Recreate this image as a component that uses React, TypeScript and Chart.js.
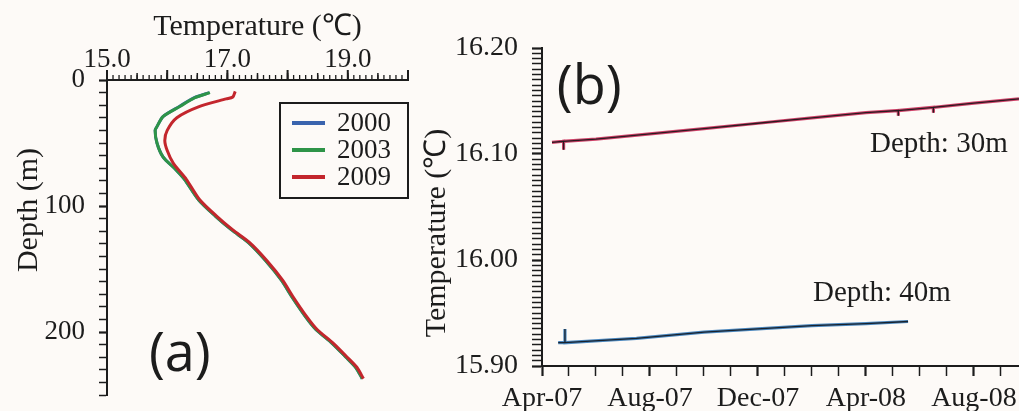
import React, { useEffect, useRef } from 'react';
import { Chart, registerables } from 'chart.js';

Chart.register(...registerables);

const SERIF = '"Liberation Serif", "Times New Roman", serif';
const SANS = '"Open Sans", "Liberation Sans", sans-serif';
const INK = '#1c1c1c';
const BG = '#fdfaf7';

// ---------- Panel (a): temperature profiles ----------
const YEARS = ['2000', '2003', '2009'];
const YEAR_COLORS = ['#3a64ae', '#2e9448', '#c3262d'];
const TEMP_TICKS = [15, 17, 19];
const DEPTH_TICKS = [0, 100, 200];

const DEPTH_2000 = [10, 14, 21, 29, 37, 40, 50, 61, 71, 79, 95, 108, 119, 129, 143, 159, 172, 188, 198, 209, 220, 228, 237];
const TEMP_2000 = [16.7, 16.45, 16.2, 15.93, 15.83, 15.8, 15.83, 15.93, 16.14, 16.29, 16.52, 16.8, 17.07, 17.35, 17.63, 17.9, 18.07, 18.3, 18.47, 18.74, 18.97, 19.13, 19.24];
const DEPTH_2003 = [10, 14, 21, 29, 37, 40, 50, 61, 71, 79, 95, 108, 119, 129, 143, 159, 172, 188, 198, 209, 220, 228, 237];
const TEMP_2003 = [16.71, 16.46, 16.21, 15.93, 15.83, 15.8, 15.83, 15.93, 16.14, 16.29, 16.52, 16.8, 17.07, 17.35, 17.63, 17.9, 18.07, 18.3, 18.47, 18.74, 18.97, 19.13, 19.24];
const DEPTH_2009 = [9, 13.5, 15, 21, 30, 40, 48, 56, 66, 79, 95, 108, 119, 129, 143, 159, 172, 188, 198, 209, 220, 228, 237];
const TEMP_2009 = [17.13, 17.09, 16.98, 16.54, 16.16, 16.0, 15.96, 16.0, 16.1, 16.32, 16.54, 16.82, 17.09, 17.37, 17.65, 17.92, 18.09, 18.32, 18.49, 18.76, 18.99, 19.15, 19.26];

const PROFILE_TEMPS = [TEMP_2000, TEMP_2003, TEMP_2009];
const PROFILE_DEPTHS = [DEPTH_2000, DEPTH_2003, DEPTH_2009];
const PROFILE_ORDER = [2, 1, 0];

// ---------- Panel (b): time series ----------
const MONTH_TICKS = [0, 4, 8, 12, 16];
const MONTH_LABELS = ['Apr-07', 'Aug-07', 'Dec-07', 'Apr-08', 'Aug-08'];
const TEMP_B_TICKS = [15.9, 16.0, 16.1, 16.2];

const MONTH_30M = [0.37, 0.8, 0.8, 0.8, 2, 4, 6, 8, 10, 12, 13.2, 13.2, 13.2, 14.5, 14.5, 14.5, 16, 17.67];
const TEMP_30M = [16.111, 16.112, 16.104, 16.112, 16.114, 16.119, 16.124, 16.129, 16.134, 16.139, 16.141, 16.136, 16.141, 16.144, 16.139, 16.144, 16.148, 16.152];
const MONTH_40M = [0.6, 0.85, 0.85, 0.85, 2.1, 3.5, 6, 8, 10, 12, 13.56];
const TEMP_40M = [15.922, 15.922, 15.935, 15.922, 15.924, 15.926, 15.932, 15.935, 15.938, 15.94, 15.942];

// minor tick grid helpers (tick positions only, not data)
const minorTicks = (min: number, max: number, step: number) => {
  const out: { value: number }[] = [];
  const n0 = Math.ceil(min / step - 1e-6);
  const n1 = Math.floor(max / step + 1e-6);
  for (let n = n0; n <= n1; n++) out.push({ value: Number((n * step).toFixed(6)) });
  return out;
};
const isIn = (list: number[], v: number) => list.some((t) => Math.abs(t - v) < 1e-6);

function makeTopTickPlugin(specs: any[], overshoot: number) {
  return {
    id: 'toptickmarks',
    afterDraw(chart: any) {
      const ctx = chart.ctx;
      const area = chart.chartArea;
      const scale = chart.scales.x;
      ctx.save();
      ctx.fillStyle = INK;
      for (const spec of specs) {
        const n0 = Math.ceil(scale.min / spec.step - 1e-6);
        const n1 = Math.floor(scale.max / spec.step + 1e-6);
        for (let n = n0; n <= n1; n++) {
          const p = scale.getPixelForValue(n * spec.step);
          ctx.fillRect(p - spec.width / 2, area.top - spec.len, spec.width, spec.len);
        }
      }
      if (overshoot) ctx.fillRect(area.left - 1, area.top - overshoot, 2, overshoot);
      ctx.restore();
    },
  };
}

function makeDecor(cfg: any) {
  return {
    id: 'decor',
    beforeDraw(chart: any) {
      const ctx = chart.ctx;
      ctx.save();
      ctx.fillStyle = BG;
      ctx.fillRect(0, 0, chart.width, chart.height);
      ctx.restore();
    },
    afterDraw(chart: any) {
      const ctx = chart.ctx;
      const area = chart.chartArea;
      for (const t of cfg.texts) {
        let x = t.px;
        let y = t.py;
        if (t.x !== undefined) {
          x = chart.scales.x.getPixelForValue(t.x);
          y = chart.scales.y.getPixelForValue(t.y);
        }
        ctx.save();
        ctx.translate(x, y);
        if (t.rotate) ctx.rotate(t.rotate);
        ctx.font = t.font;
        ctx.fillStyle = INK;
        ctx.textAlign = t.align || 'left';
        ctx.textBaseline = 'middle';
        ctx.fillText(t.text, 0, 0);
        ctx.restore();
      }
      const lg = cfg.legend;
      if (lg) {
        const bx = area.right - lg.width;
        const by = area.top + lg.top;
        ctx.save();
        ctx.lineWidth = 2;
        ctx.strokeStyle = INK;
        ctx.strokeRect(bx, by, lg.width, lg.height);
        chart.data.datasets.forEach((ds: any, i: number) => {
          const ry = by + lg.rows[i];
          ctx.fillStyle = ds.borderColor;
          ctx.fillRect(bx + lg.swatchX, ry - 2, lg.swatchW, 4);
          ctx.fillStyle = INK;
          ctx.font = lg.font;
          ctx.textAlign = 'left';
          ctx.textBaseline = 'middle';
          ctx.fillText(ds.label, bx + lg.textX, ry + 1);
        });
        ctx.restore();
      }
    },
  };
}

const noPad = (s: any) => {
  s.paddingLeft = 0;
  s.paddingRight = 0;
  s.paddingTop = 0;
  s.paddingBottom = 0;
};

const nativeTicks = (len: number, majors: number[]) => ({
  display: true,
  drawOnChartArea: false,
  drawTicks: true,
  tickLength: len,
  tickColor: INK,
  color: INK,
  tickWidth: (c: any) => (c.tick && isIn(majors, c.tick.value) ? 2.2 : 1.5),
});

function makeProfileChart(canvas: HTMLCanvasElement) {
  const top = makeTopTickPlugin(
    [
      { step: 0.1, len: 5, width: 1.3 },
      { step: 0.5, len: 7, width: 1.5 },
      { step: 1, len: 10, width: 2 },
    ],
    7
  );
  const decor = makeDecor({
    texts: [
      { text: '(a)', x: 16.21, y: 219, font: `54px ${SANS}`, align: 'center' },
      { text: 'Depth (m)', px: 29, py: 210, rotate: -Math.PI / 2, font: `30px ${SERIF}`, align: 'center' },
    ],
    legend: { width: 128, top: 23, height: 95, rows: [20, 47, 74], swatchX: 12, swatchW: 33, textX: 57, font: `27px ${SERIF}` },
  });
  return new Chart(canvas, {
    type: 'scatter',
    data: {
      datasets: YEARS.map((yr, i) => ({
        label: yr,
        data: PROFILE_TEMPS[i].map((t, j) => ({ x: t, y: PROFILE_DEPTHS[i][j] })),
        showLine: true,
        borderColor: YEAR_COLORS[i],
        backgroundColor: YEAR_COLORS[i],
        borderWidth: 3,
        pointRadius: 0,
        tension: 0.25,
        order: PROFILE_ORDER[i],
      })),
    },
    options: {
      animation: false,
      responsive: false,
      events: [],
      layout: { autoPadding: false, padding: { left: 0, top: 0, right: 12, bottom: 16 } },
      plugins: {
        legend: { display: false },
        tooltip: { enabled: false },
      },
      scales: {
        x: {
          type: 'linear',
          position: 'top',
          min: 15,
          max: 20,
          afterBuildTicks: (s: any) => { s.ticks = TEMP_TICKS.map((v) => ({ value: v })); },
          afterFit: (s: any) => { s.height = 80; noPad(s); },
          ticks: {
            callback: (v: any) => Number(v).toFixed(1),
            font: { family: SERIF, size: 27, lineHeight: 1 },
            color: INK,
            padding: 7,
            maxRotation: 0,
            autoSkip: false,
          },
          grid: { display: false, drawTicks: false },
          border: { display: true, color: INK, width: 2 },
          title: {
            display: true,
            text: 'Temperature (℃)',
            color: INK,
            font: { family: SERIF, size: 30, lineHeight: 1 },
            padding: { top: 12, bottom: 0 },
          },
        },
        y: {
          type: 'linear',
          reverse: true,
          min: 0,
          max: 250,
          afterBuildTicks: (s: any) => { s.ticks = minorTicks(0, 250, 10); },
          afterFit: (s: any) => { s.width = 107; noPad(s); },
          ticks: {
            callback: (v: any) => (isIn(DEPTH_TICKS, Number(v)) ? String(v) : ''),
            font: { family: SERIF, size: 27, lineHeight: 1 },
            color: INK,
            padding: 14,
            autoSkip: false,
          },
          grid: { ...nativeTicks(8, DEPTH_TICKS), tickLength: 8 },
          border: { display: true, color: INK, width: 2 },
        },
      },
    } as any,
    plugins: [decor as any, top as any],
  });
}

function makeSeriesChart(canvas: HTMLCanvasElement) {
  const decor = makeDecor({
    texts: [
      { text: '(b)', x: 0.55, y: 16.162, font: `54px ${SANS}`, align: 'left' },
      { text: 'Depth: 30m', x: 12.15, y: 16.1095, font: `29px ${SERIF}`, align: 'left' },
      { text: 'Depth: 40m', x: 10.04, y: 15.9686, font: `29px ${SERIF}`, align: 'left' },
      { text: 'Temperature (℃)', px: 17, py: 233, rotate: -Math.PI / 2, font: `30px ${SERIF}`, align: 'center' },
    ],
  });
  const line = (label: string, months: number[], temps: number[], color: string, width: number, order: number) => ({
    label,
    data: months.map((m, i) => ({ x: m, y: temps[i] })),
    showLine: true,
    borderColor: color,
    backgroundColor: color,
    borderWidth: width,
    pointRadius: 0,
    tension: 0,
    order,
  });
  return new Chart(canvas, {
    type: 'scatter',
    data: {
      datasets: [
        line('30m', MONTH_30M, TEMP_30M, '#d0436a', 3.2, 2),
        line('30m core', MONTH_30M, TEMP_30M, '#2a1a20', 1.3, 1),
        line('40m', MONTH_40M, TEMP_40M, '#4a86bd', 3.2, 2),
        line('40m core', MONTH_40M, TEMP_40M, '#18222e', 1.3, 1),
      ],
    },
    options: {
      animation: false,
      responsive: false,
      events: [],
      layout: { autoPadding: false, padding: { left: 0, top: 48, right: 0, bottom: 0 } },
      plugins: {
        legend: { display: false },
        tooltip: { enabled: false },
      },
      scales: {
        x: {
          type: 'linear',
          position: 'bottom',
          min: 0,
          max: 17.67,
          afterBuildTicks: (s: any) => { s.ticks = minorTicks(0, 17.67, 1); },
          afterFit: (s: any) => { s.height = 45; noPad(s); },
          ticks: {
            callback: (v: any) => {
              const k = MONTH_TICKS.findIndex((t) => Math.abs(t - Number(v)) < 1e-6);
              return k >= 0 ? MONTH_LABELS[k] : '';
            },
            font: { family: SERIF, size: 28, lineHeight: 1 },
            color: INK,
            padding: 9,
            maxRotation: 0,
            autoSkip: false,
          },
          grid: { ...nativeTicks(10, MONTH_TICKS) },
          border: { display: true, color: INK, width: 2 },
        },
        y: {
          type: 'linear',
          min: 15.9,
          max: 16.2,
          afterBuildTicks: (s: any) => { s.ticks = minorTicks(15.9, 16.2, 0.005); },
          afterFit: (s: any) => { s.width = 122; noPad(s); },
          ticks: {
            callback: (v: any) => (isIn(TEMP_B_TICKS, Number(v)) ? Number(v).toFixed(2) : ''),
            font: { family: SERIF, size: 28, lineHeight: 1 },
            color: INK,
            padding: 14,
            autoSkip: false,
          },
          grid: { ...nativeTicks(10, TEMP_B_TICKS) },
          border: { display: true, color: INK, width: 2 },
        },
      },
    } as any,
    plugins: [decor as any],
  });
}

export default function App() {
  const refA = useRef<HTMLCanvasElement | null>(null);
  const refB = useRef<HTMLCanvasElement | null>(null);
  useEffect(() => {
    const a = makeProfileChart(refA.current!);
    const b = makeSeriesChart(refB.current!);
    return () => {
      a.destroy();
      b.destroy();
    };
  }, []);
  return (
    <div style={{ position: 'fixed', left: 0, top: 0, width: 1019, height: 411, background: BG, overflow: 'hidden' }}>
      <canvas ref={refA} width={420} height={411} style={{ position: 'absolute', left: 0, top: 0, width: 420, height: 411 }} />
      <canvas ref={refB} width={599} height={411} style={{ position: 'absolute', left: 420, top: 0, width: 599, height: 411 }} />
    </div>
  );
}
